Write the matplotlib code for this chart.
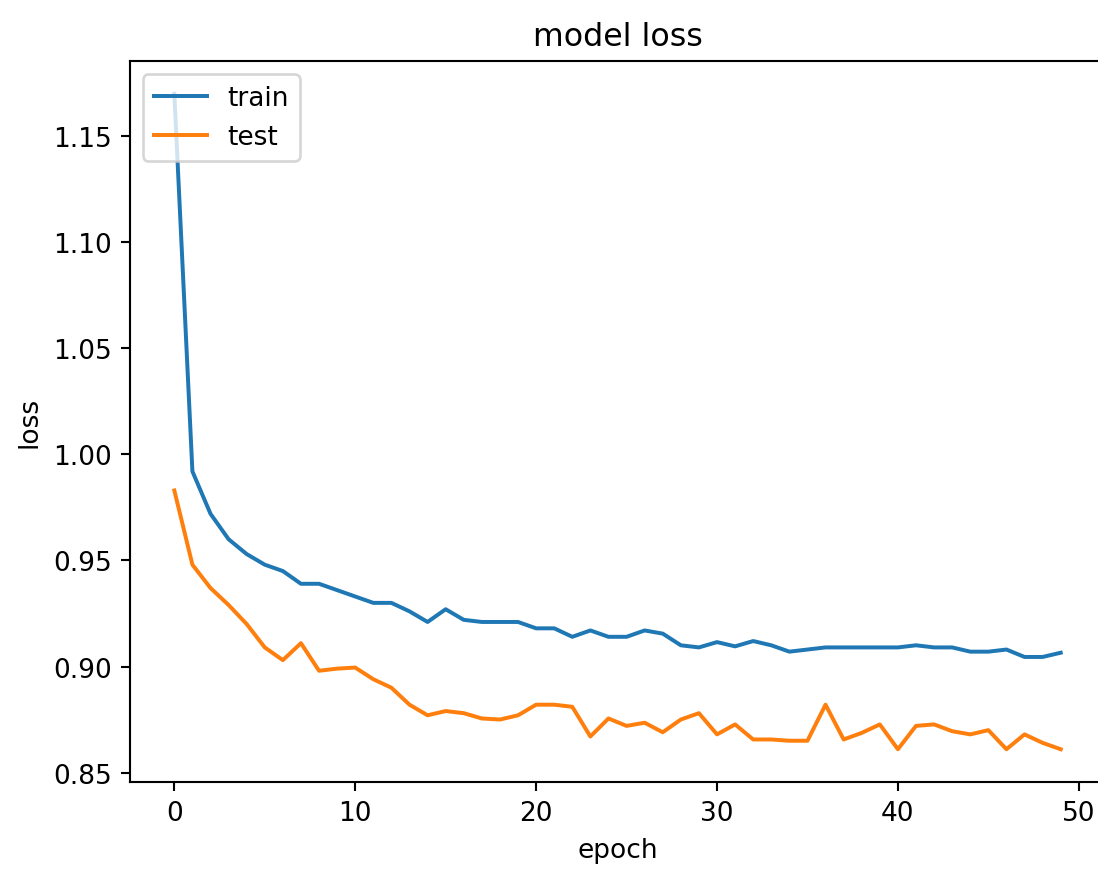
import matplotlib.pyplot as plt

# loss per epoch
train_loss = [1.170, 0.992, 0.972, 0.960, 0.953, 0.948, 0.945, 0.939, 0.939, 0.936,
              0.933, 0.930, 0.930, 0.926, 0.921, 0.927, 0.922, 0.921, 0.921, 0.921,
              0.918, 0.918, 0.914, 0.917, 0.914, 0.914, 0.917, 0.9155, 0.910, 0.909,
              0.9115, 0.9095, 0.912, 0.910, 0.907, 0.908, 0.909, 0.909, 0.909, 0.909,
              0.909, 0.910, 0.909, 0.909, 0.907, 0.907, 0.908, 0.9045, 0.9045, 0.9065]
test_loss = [0.983, 0.948, 0.937, 0.929, 0.920, 0.909, 0.903, 0.911, 0.898, 0.899,
             0.8995, 0.894, 0.890, 0.882, 0.877, 0.879, 0.878, 0.8755, 0.875, 0.877,
             0.882, 0.882, 0.881, 0.867, 0.8755, 0.872, 0.8735, 0.869, 0.875, 0.878,
             0.868, 0.8727, 0.8656, 0.8656, 0.865, 0.865, 0.882, 0.8656, 0.8687, 0.8727,
             0.861, 0.872, 0.8727, 0.8695, 0.868, 0.870, 0.861, 0.868, 0.864, 0.861]
epochs = list(range(len(train_loss)))

# the original is a default keras history plot blown up, so keep default sizes at high dpi
DPI = 190
fig = plt.figure(figsize=(1098 / DPI, 870 / DPI), dpi=DPI)
ax = fig.add_axes([0.1184, 0.1, 0.888, 0.8287])

ax.plot(epochs, train_loss, label="train")
ax.plot(epochs, test_loss, label="test")

ax.set_title("model loss")
ax.set_ylabel("loss")
ax.set_xlabel("epoch")
ax.set_xticks([0, 10, 20, 30, 40, 50])
ax.set_yticks([0.85, 0.90, 0.95, 1.00, 1.05, 1.10, 1.15])
ax.legend(loc="upper left")

fig.savefig("out.png", dpi=DPI)
